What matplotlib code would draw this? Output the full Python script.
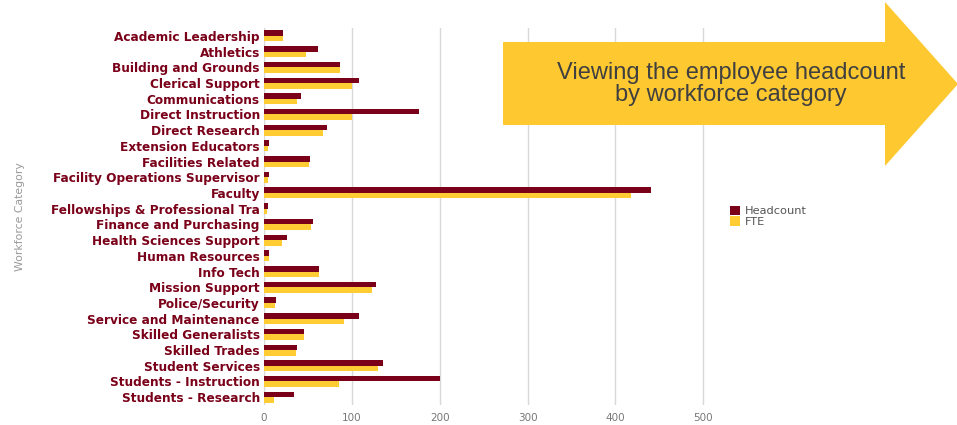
import numpy as np
import matplotlib.pyplot as plt
from matplotlib.patches import Polygon

categories = ['Academic Leadership', 'Athletics', 'Building and Grounds', 'Clerical Support',
              'Communications', 'Direct Instruction', 'Direct Research', 'Extension Educators',
              'Facilities Related', 'Facility Operations Supervisor', 'Faculty',
              'Fellowships & Professional Tra', 'Finance and Purchasing', 'Health Sciences Support',
              'Human Resources', 'Info Tech', 'Mission Support', 'Police/Security',
              'Service and Maintenance', 'Skilled Generalists', 'Skilled Trades',
              'Student Services', 'Students - Instruction', 'Students - Research']
headcount = [22, 61, 87, 108, 42, 176, 72, 6, 52, 6, 441, 4, 56, 26, 6, 63, 127, 14, 108, 46, 37, 135, 200, 34]
fte = [22, 48, 86, 100, 38, 100, 67, 4, 51, 5, 418, 3, 54, 21, 6, 63, 123, 13, 91, 45, 36, 130, 85, 11]
xticks = [0, 100, 200, 300, 400, 500]

maroon = '#7a0019'
gold = '#ffcc33'

fig = plt.figure(figsize=(9.57, 4.25), dpi=100)
ax = fig.add_axes([0.2759, 0.047, 0.4774, 0.887])

y = np.arange(len(categories))
ax.barh(y - 0.175, headcount, height=0.35, color=maroon, label='Headcount')
ax.barh(y + 0.175, fte, height=0.35, color=gold, label='FTE')

ax.set_ylim(len(categories) - 0.5, -0.5)
ax.set_xlim(0, 520)
ax.set_yticks(y)
ax.set_yticklabels(categories, fontsize=8.7, fontweight='bold', color=maroon)
ax.set_xticks(xticks)
ax.set_xticklabels([str(t) for t in xticks], fontsize=7.5, color='#777777')
ax.tick_params(length=0, pad=3)
ax.tick_params(axis='x', pad=6)
ax.grid(axis='x', color='#d8d8d8', linewidth=1)
ax.set_axisbelow(True)
for s in ax.spines.values():
    s.set_visible(False)

fig.text(0.021, 0.49, 'Workforce Category', rotation=90, fontsize=7.8, color='#999999',
         ha='center', va='center')

fig.legend(loc='upper left', bbox_to_anchor=(0.752, 0.54), frameon=False, fontsize=8.2,
           handlelength=0.9, handleheight=0.9, handletextpad=0.4, labelspacing=0.0,
           labelcolor='#555555')

# arrow callout
W, H = 957, 425
pts = [(503, 42), (885, 42), (885, 2), (958, 84), (885, 166), (885, 125), (503, 125)]
arrow = Polygon([(px / W, 1 - py / H) for px, py in pts], closed=True,
                transform=fig.transFigure, facecolor='#fdc830', edgecolor='none', zorder=5)
fig.patches.append(arrow)
fig.text(731 / W, 1 - 84 / H, 'Viewing the employee headcount\nby workforce category',
         fontsize=17, family='Liberation Sans', color='#404040', ha='center', va='center',
         linespacing=1.05, zorder=6)

fig.savefig('out.png', dpi=100)
